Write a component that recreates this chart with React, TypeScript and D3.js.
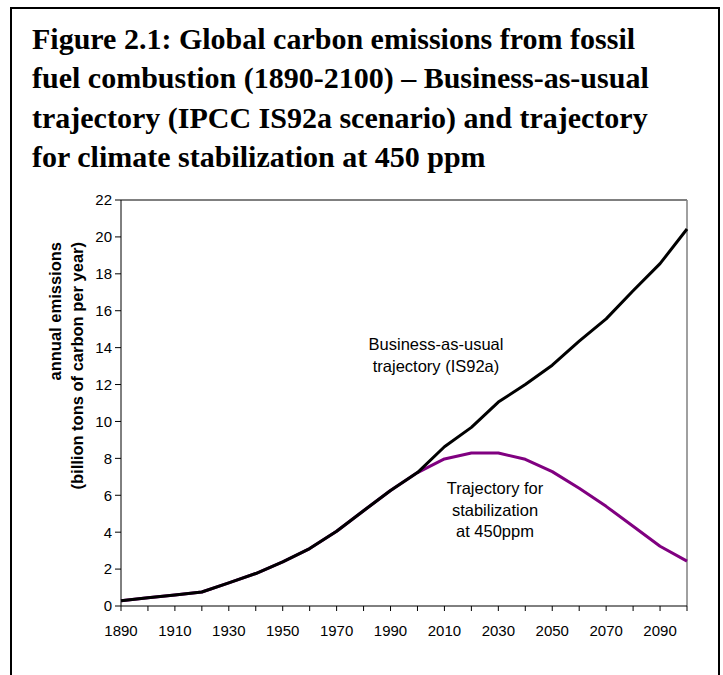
import React from "react";
import * as d3 from "d3";

const titleLines = [
  "Figure 2.1: Global carbon emissions from fossil",
  "fuel combustion (1890-2100) – Business-as-usual",
  "trajectory (IPCC IS92a scenario) and trajectory",
  "for climate stabilization at 450 ppm",
];

const years = [
  1890, 1900, 1910, 1920, 1930, 1940, 1950, 1960, 1970, 1980, 1990, 2000,
  2010, 2020, 2030, 2040, 2050, 2060, 2070, 2080, 2090, 2100,
];

const businessAsUsual = [
  0.28, 0.45, 0.6, 0.76, 1.25, 1.76, 2.39, 3.11, 4.05, 5.16, 6.26, 7.23,
  8.63, 9.68, 11.05, 12.0, 13.05, 14.35, 15.56, 17.08, 18.55, 20.43,
];

const stabilization450 = [
  0.28, 0.45, 0.6, 0.76, 1.25, 1.76, 2.39, 3.11, 4.05, 5.16, 6.26, 7.23,
  7.97, 8.29, 8.29, 7.95, 7.28, 6.38, 5.4, 4.32, 3.24, 2.43,
];

const yTickValues = [0, 2, 4, 6, 8, 10, 12, 14, 16, 18, 20, 22];
const xTickValues = years;
const xTickLabels = [1890, 1910, 1930, 1950, 1970, 1990, 2010, 2030, 2050, 2070, 2090];

const yTitleLines = ["annual emissions", "(billion tons of carbon per year)"];
const bauLabel = ["Business-as-usual", "trajectory (IS92a)"];
const stabLabel = ["Trajectory for", "stabilization", "at 450ppm"];

const W = 723;
const H = 675;
const plot = { left: 121, right: 687, top: 200, bottom: 606 };
const sans = "'Liberation Sans', Arial, sans-serif";
const serif = "'Liberation Serif', 'Times New Roman', serif";

export default function App() {
  const x = d3.scaleLinear().domain([1890, 2100]).range([plot.left, plot.right]);
  const y = d3.scaleLinear().domain([0, 22]).range([plot.bottom, plot.top]);

  const line = d3
    .line<number>()
    .x((_, i) => x(years[i]))
    .y((d) => y(d));

  return (
    <div style={{ position: "absolute", left: 0, top: 0 }}>
      <svg width={W} height={H} style={{ display: "block", background: "#fff" }}>
        {/* outer frame */}
        <path d={`M11,${H + 5} V8 H719 V${H + 5}`} fill="none" stroke="#000" strokeWidth={2} />

        {/* title */}
        {titleLines.map((t, i) => (
          <text
            key={i}
            x={32}
            y={49 + i * 39.3}
            fontFamily={serif}
            fontWeight="bold"
            fontSize={30}
            fill="#000"
          >
            {t}
          </text>
        ))}

        {/* plot frame */}
        <line x1={plot.left} x2={plot.right} y1={plot.top} y2={plot.top} stroke="#000" strokeWidth={1} />
        <line x1={plot.right} x2={plot.right} y1={plot.top} y2={plot.bottom} stroke="#808080" strokeWidth={1.5} />
        <line x1={plot.left} x2={plot.left} y1={plot.top} y2={plot.bottom} stroke="#000" strokeWidth={1} />
        <line x1={plot.left} x2={plot.right} y1={plot.bottom} y2={plot.bottom} stroke="#000" strokeWidth={1} />

        {/* y ticks */}
        {yTickValues.map((v) => (
          <g key={v}>
            <line x1={plot.left - 6} x2={plot.left} y1={y(v)} y2={y(v)} stroke="#000" strokeWidth={1} />
            <text
              x={plot.left - 9}
              y={y(v)}
              dy="0.36em"
              textAnchor="end"
              fontFamily={sans}
              fontSize={15}
              fill="#000"
            >
              {v}
            </text>
          </g>
        ))}

        {/* x ticks */}
        {xTickValues.map((v) => (
          <line key={v} x1={x(v)} x2={x(v)} y1={plot.bottom} y2={plot.bottom + 5} stroke="#000" strokeWidth={1} />
        ))}
        {xTickLabels.map((v) => (
          <text
            key={v}
            x={x(v)}
            y={636}
            textAnchor="middle"
            fontFamily={sans}
            fontSize={15}
            fill="#000"
          >
            {v}
          </text>
        ))}

        {/* y axis title */}
        <g transform={`translate(0, 242) rotate(-90)`}>
          {yTitleLines.map((t, i) => (
            <text
              key={i}
              x={0}
              y={61 + i * 22}
              textAnchor="end"
              fontFamily={sans}
              fontWeight="bold"
              fontSize={16.5}
              fill="#000"
            >
              {t}
            </text>
          ))}
        </g>

        {/* series */}
        <path d={line(stabilization450) || ""} fill="none" stroke="#800080" strokeWidth={3} strokeLinejoin="round" />
        <path d={line(businessAsUsual) || ""} fill="none" stroke="#000" strokeWidth={3} strokeLinejoin="round" />

        {/* annotations */}
        {bauLabel.map((t, i) => (
          <text
            key={i}
            x={436}
            y={350 + i * 21.5}
            textAnchor="middle"
            fontFamily={sans}
            fontSize={16.5}
            fill="#000"
          >
            {t}
          </text>
        ))}
        {stabLabel.map((t, i) => (
          <text
            key={i}
            x={495}
            y={494 + i * 21.6}
            textAnchor="middle"
            fontFamily={sans}
            fontSize={16.5}
            fill="#000"
          >
            {t}
          </text>
        ))}
      </svg>
    </div>
  );
}
